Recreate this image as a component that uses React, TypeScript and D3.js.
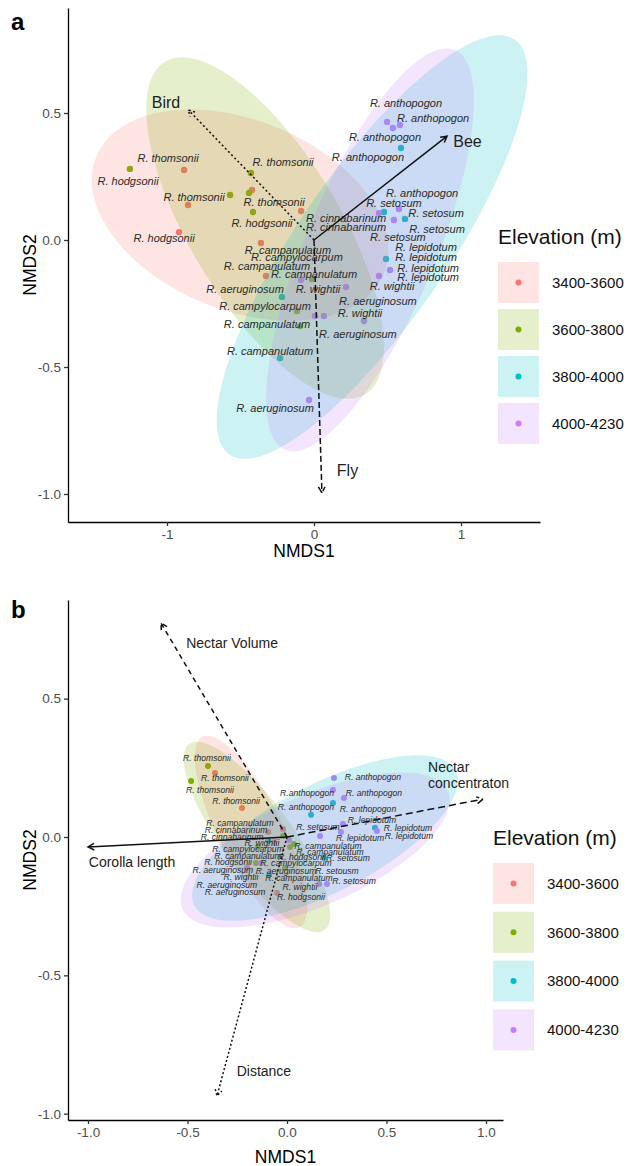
import { useEffect, useRef } from 'react'
import * as d3 from 'd3'

const FONT = '"Liberation Sans", Arial, Helvetica, sans-serif'

const groups = ['3400-3600', '3600-3800', '3800-4000', '4000-4230']
const groupColors = ['#F8766D', '#7CAE00', '#00BFC4', '#C77CFF']

// panel a: NMDS scores [NMDS1, NMDS2, group]
const pointsA = [
  [-0.884, 0.276, 0], [-0.857, 0.138, 0], [-0.422, 0.197, 0], [-0.088, 0.114, 0],
  [-0.918, 0.031, 0], [-0.361, -0.012, 0], [-0.327, -0.142, 0],
  [-1.252, 0.28, 1], [-0.429, 0.264, 1], [-0.571, 0.177, 1], [-0.442, 0.185, 1],
  [-0.415, 0.11, 1], [-0.014, -0.154, 1], [-0.116, -0.28, 1], [-0.095, -0.339, 1],
  [0.592, 0.362, 2], [0.476, 0.11, 2], [0.619, 0.083, 2], [0.49, -0.075, 2],
  [-0.218, -0.224, 2], [-0.231, -0.465, 2],
  [0.497, 0.465, 3], [0.537, 0.441, 3], [0.585, 0.453, 3], [0.442, 0.106, 3],
  [0.578, 0.122, 3], [0.544, 0.079, 3], [0.517, -0.118, 3], [0.442, -0.142, 3],
  [-0.088, -0.157, 3], [0.218, -0.185, 3], [0.007, -0.299, 3], [0.068, -0.299, 3],
  [0.34, -0.319, 3], [-0.034, -0.63, 3],
]

const labelsA = [
  ['R. thomsonii', -0.993, 0.323], ['R. hodgsonii', -1.265, 0.232], ['R. thomsonii', -0.211, 0.307],
  ['R. thomsonii', -0.816, 0.169], ['R. thomsonii', -0.272, 0.15], ['R. hodgsonii', -0.354, 0.067],
  ['R. hodgsonii', -1.02, 0.008], ['R. cinnabarinum', 0.218, 0.087], ['R. cinnabarinum', 0.218, 0.051],
  ['R. campanulatum', -0.177, -0.039], ['R. campylocarpum', -0.116, -0.067], ['R. campanulatum', -0.32, -0.102],
  ['R. campanulatum', 0.0, -0.134], ['R. aeruginosum', -0.469, -0.193], ['R. wightii', 0.027, -0.193],
  ['R. campylocarpum', -0.333, -0.26], ['R. campanulatum', -0.32, -0.331], ['R. aeruginosum', 0.299, -0.37],
  ['R. campanulatum', -0.299, -0.437], ['R. aeruginosum', -0.265, -0.661],
  ['R. anthopogon', 0.626, 0.539], ['R. anthopogon', 0.81, 0.48], ['R. anthopogon', 0.483, 0.406],
  ['R. anthopogon', 0.367, 0.327], ['R. anthopogon', 0.735, 0.185], ['R. setosum', 0.544, 0.146],
  ['R. setosum', 0.83, 0.106], ['R. setosum', 0.837, 0.043], ['R. setosum', 0.571, 0.012],
  ['R. lepidotum', 0.762, -0.028], ['R. lepidotum', 0.762, -0.067], ['R. lepidotum', 0.776, -0.11],
  ['R. lepidotum', 0.776, -0.146], ['R. wightii', 0.531, -0.181], ['R. aeruginosum', 0.435, -0.24],
  ['R. wightii', 0.313, -0.287],
]

// ellipses: centre + two semi-axis vectors (data units), one per elevation group
const ellipsesA = [
  [-0.503, 0.098, 0.979, -0.229, -0.242, -0.347],
  [-0.333, 0.047, 0.68, -0.655, -0.437, -0.152],
  [0.395, -0.028, 0.97, 0.817, 0.42, -0.167],
  [0.381, -0.039, 0.577, 0.787, 0.407, -0.1],
]

// fitted vectors: [name, x end, y end, label x, label y]
const vectorsA = [
  ['Bird', -0.855, 0.512, -1.007, 0.54],
  ['Bee', 0.905, 0.409, 1.044, 0.387],
  ['Fly', 0.054, -0.996, 0.228, -0.906],
]

const xTicksA = [-1, 0, 1]
const yTicksA = [-1, -0.5, 0, 0.5]

// panel b
const pointsB = [
  [-0.362, 0.231, 0], [-0.226, 0.105, 0], [-0.095, 0.018, 0], [-0.02, 0.029, 0],
  [-0.065, -0.018, 0], [-0.05, -0.202, 0],
  [-0.397, 0.257, 1], [-0.482, 0.202, 1], [-0.02, 0.004, 1], [0.015, -0.036, 1],
  [0.035, -0.025, 1], [-0.156, -0.094, 1], [-0.01, -0.112, 1], [-0.146, -0.036, 1],
  [0.231, 0.123, 2], [0.121, 0.08, 2], [0.442, 0.033, 2], [0.186, -0.076, 2],
  [-0.09, -0.137, 2], [-0.095, -0.014, 2],
  [0.236, 0.213, 3], [0.231, 0.17, 3], [0.286, 0.141, 3], [0.281, 0.047, 3],
  [0.271, 0.018, 3], [0.166, 0.004, 3], [0.452, 0.022, 3], [0.01, -0.011, 3],
  [-0.201, -0.112, 3], [-0.131, -0.094, 3], [0.161, -0.17, 3], [0.201, -0.17, 3],
]

const labelsB = [
  ['R. thomsonii', -0.402, 0.286], ['R. thomsonii', -0.312, 0.213], ['R. thomsonii', -0.387, 0.17],
  ['R. thomsonii', -0.256, 0.13], ['R. campanulatum', -0.236, 0.051], ['R. cinnabarinum', -0.256, 0.025],
  ['R. cinnabarinum', -0.276, 0.0], ['R. wightii', -0.126, -0.022], ['R. campylocarpum', -0.196, -0.043],
  ['R. campanulatum', -0.196, -0.069], ['R. hodgsonii', -0.296, -0.09], ['R. aeruginosum', -0.322, -0.119],
  ['R. wightii', -0.231, -0.145], ['R. aeruginosum', -0.302, -0.173], ['R. aeruginosum', -0.261, -0.199],
  ['R. anthopogon', 0.432, 0.217], ['R.anthopogon', 0.101, 0.159], ['R. anthopogon', 0.437, 0.159],
  ['R. anthopogon', 0.095, 0.108], ['R. anthopogon', 0.407, 0.101], ['R. lepidotum', 0.427, 0.061],
  ['R. setosum', 0.156, 0.036], ['R. lepidotum', 0.608, 0.033], ['R. lepidotum', 0.613, 0.004],
  ['R. lepidotum', 0.367, -0.004], ['R. campanulatum', 0.206, -0.033], ['R. campanulatum', 0.216, -0.054],
  ['R. hodgsonii', 0.075, -0.072], ['R. setosum', 0.307, -0.076], ['R. campylocarpum', 0.045, -0.094],
  ['R. aeruginosum', -0.005, -0.123], ['R. setousm', 0.251, -0.123], ['R. campanulatum', 0.06, -0.148],
  ['R. setosum', 0.337, -0.159], ['R. wightii', 0.065, -0.181], ['R. hodgsonii', 0.07, -0.217],
]

const ellipsesB = [
  [-0.181, 0.018, 0.244, -0.344, -0.143, -0.052],
  [-0.151, 0.0, 0.34, -0.336, -0.142, -0.074],
  [0.191, -0.004, 0.656, 0.244, 0.125, -0.173],
  [0.141, -0.047, 0.666, 0.213, 0.113, -0.182],
]

const vectorsB = [
  ['Nectar Volume', -0.633, 0.773, -0.276, 0.701],
  ['Nectar\nconcentraton', 0.985, 0.137, 0.709, 0.253],
  ['Corolla length', -1.0, -0.036, -0.779, -0.09],
  ['Distance', -0.352, -0.936, -0.116, -0.846],
]

const xTicksB = [-1, -0.5, 0, 0.5, 1]
const yTicksB = [-1, -0.5, 0, 0.5]

const dashA = { Bird: '2,2.5', Bee: null, Fly: '6,3' }
const dashB = { 'Nectar Volume': '5,4', 'Nectar\nconcentraton': '7,4', 'Corolla length': null, Distance: '2,2.2' }

function drawPanel(svg, p) {
  const x = d3.scaleLinear().domain(p.xDomain).range([p.left, p.right])
  const y = d3.scaleLinear().domain(p.yDomain).range([p.bottom, p.top])
  const g = svg.append('g')

  // points first, ellipses are laid over them
  g.selectAll('circle.pt')
    .data(p.points)
    .enter()
    .append('circle')
    .attr('cx', d => x(d[0]))
    .attr('cy', d => y(d[1]))
    .attr('r', p.pointR)
    .attr('fill', d => groupColors[d[2]])

  const line = d3.line().x(d => x(d[0])).y(d => y(d[1])).curve(d3.curveLinearClosed)
  p.ellipses.forEach((e, i) => {
    const [cx, cy, ax, ay, bx, by] = e
    const pts = d3.range(140).map(k => {
      const t = (k / 140) * 2 * Math.PI
      return [cx + ax * Math.cos(t) + bx * Math.sin(t), cy + ay * Math.cos(t) + by * Math.sin(t)]
    })
    g.append('path').attr('d', line(pts)).attr('fill', groupColors[i]).attr('fill-opacity', 0.2)
  })

  // species labels
  g.selectAll('text.sp')
    .data(p.labels)
    .enter()
    .append('text')
    .attr('x', d => x(d[1]))
    .attr('y', d => y(d[2]))
    .attr('dy', '0.35em')
    .attr('text-anchor', 'middle')
    .style('font-family', FONT)
    .style('font-style', 'italic')
    .style('font-size', p.labelSize + 'px')
    .style('fill', '#2a2a2a')
    .text(d => d[0])

  // vectors
  const x0 = x(0)
  const y0 = y(0)
  p.vectors.forEach(v => {
    const [name, ex, ey, lx, ly] = v
    const X = x(ex)
    const Y = y(ey)
    const dash = p.dash[name]
    const ang = Math.atan2(Y - y0, X - x0)
    const L = 7
    const head = [-0.5, 0.5].map(s => [X - L * Math.cos(ang + s), Y - L * Math.sin(ang + s)])
    const path = `M${x0},${y0}L${X},${Y}M${head[0][0]},${head[0][1]}L${X},${Y}L${head[1][0]},${head[1][1]}`
    g.append('path')
      .attr('d', path)
      .attr('fill', 'none')
      .attr('stroke', '#111')
      .attr('stroke-width', 1.5)
      .attr('stroke-dasharray', dash)
    const lines = name.split('\n')
    const t = g
      .append('text')
      .attr('x', x(lx))
      .attr('y', y(ly))
      .attr('text-anchor', lines.length > 1 ? 'start' : 'middle')
      .style('font-family', FONT)
      .style('font-size', p.vecSize + 'px')
      .style('fill', '#222')
    lines.forEach((s, i) => {
      t.append('tspan')
        .attr('x', x(lx))
        .attr('dy', i === 0 ? '0.35em' : '1.15em')
        .text(s)
    })
  })

  // axes
  const xAxis = g
    .append('g')
    .attr('transform', `translate(0,${p.bottom})`)
    .call(d3.axisBottom(x).tickValues(p.xTicks).tickSize(4).tickSizeOuter(0).tickPadding(3).tickFormat(p.xFmt))
  const yAxis = g
    .append('g')
    .attr('transform', `translate(${p.left},0)`)
    .call(d3.axisLeft(y).tickValues(p.yTicks).tickSize(4).tickSizeOuter(0).tickPadding(3).tickFormat(d => d.toFixed(1)))
  ;[xAxis, yAxis].forEach(a => {
    a.select('.domain').attr('stroke', '#000').attr('stroke-width', 1.3)
    a.selectAll('.tick line').attr('stroke', '#333').attr('stroke-width', 1.3)
    a.selectAll('.tick text')
      .style('font-family', FONT)
      .style('font-size', '13.5px')
      .style('fill', '#4d4d4d')
  })

  svg
    .append('text')
    .attr('x', (p.left + p.right) / 2)
    .attr('y', p.xTitleY)
    .attr('text-anchor', 'middle')
    .style('font-family', FONT)
    .style('font-size', '17.5px')
    .text('NMDS1')
  svg
    .append('text')
    .attr('transform', `translate(30,${(p.top + p.bottom) / 2}) rotate(-90)`)
    .attr('text-anchor', 'middle')
    .attr('dy', '0.35em')
    .style('font-family', FONT)
    .style('font-size', '17.5px')
    .text('NMDS2')

  svg
    .append('text')
    .attr('x', 11)
    .attr('y', p.tagY)
    .style('font-family', FONT)
    .style('font-size', '24px')
    .style('font-weight', 'bold')
    .text(p.tag)

  // legend
  const lg = svg.append('g').attr('transform', `translate(${p.legendX},${p.legendY})`)
  lg.append('text')
    .attr('x', 0)
    .attr('y', 0)
    .style('font-family', FONT)
    .style('font-size', '21px')
    .style('fill', '#111')
    .text('Elevation (m)')
  groups.forEach((gr, i) => {
    const it = lg.append('g').attr('transform', `translate(0,${p.keyTop + i * p.keyStep})`)
    it.append('rect')
      .attr('width', 41)
      .attr('height', 41)
      .attr('fill', groupColors[i])
      .attr('fill-opacity', 0.2)
    it.append('circle').attr('cx', 20.5).attr('cy', 20.5).attr('r', 3).attr('fill', groupColors[i])
    it.append('text')
      .attr('x', 54)
      .attr('y', 20.5)
      .attr('dy', '0.35em')
      .style('font-family', FONT)
      .style('font-size', '15px')
      .style('fill', '#111')
      .text(gr)
  })
}

export default function App() {
  const svgRef = useRef(null)

  useEffect(() => {
    if (!svgRef.current) return
    document.body.style.margin = '0'
    const svg = d3.select(svgRef.current)
    svg.selectAll('*').remove()
    svg.append('rect').attr('width', 630).attr('height', 1166).attr('fill', '#fff')

    drawPanel(svg, {
      tag: 'a',
      tagY: 30,
      xDomain: [(68 - 314) / 147, (540 - 314) / 147],
      yDomain: [(240 - 522) / 254, (240 - 8) / 254],
      left: 68,
      right: 540,
      top: 8,
      bottom: 522,
      points: pointsA,
      labels: labelsA,
      ellipses: ellipsesA,
      vectors: vectorsA,
      dash: dashA,
      xTicks: xTicksA,
      yTicks: yTicksA,
      xFmt: d => String(d),
      pointR: 3.2,
      labelSize: 11,
      vecSize: 16,
      xTitleY: 557,
      legendX: 498,
      legendY: 244,
      keyTop: 18,
      keyStep: 47,
    })

    drawPanel(svg, {
      tag: 'b',
      tagY: 618,
      xDomain: [(68 - 287) / 199, (503 - 287) / 199],
      yDomain: [(837 - 1120) / 276.7, (837 - 600) / 276.7],
      left: 68,
      right: 503,
      top: 600,
      bottom: 1120,
      points: pointsB,
      labels: labelsB,
      ellipses: ellipsesB,
      vectors: vectorsB,
      dash: dashB,
      xTicks: xTicksB,
      yTicks: yTicksB,
      xFmt: d => d.toFixed(1),
      pointR: 3,
      labelSize: 8.6,
      vecSize: 14,
      xTitleY: 1163,
      legendX: 493,
      legendY: 845,
      keyTop: 18,
      keyStep: 48.8,
    })
  }, [])

  return <svg ref={svgRef} width={630} height={1166} style={{ display: 'block' }} />
}
